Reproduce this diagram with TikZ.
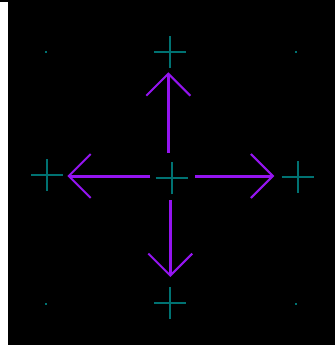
\documentclass[tikz,border=0pt]{standalone}
\usetikzlibrary{arrows.meta}
\definecolor{tealc}{HTML}{007272}
\definecolor{purp}{HTML}{9414F0}
\tikzset{
  x=1pt, y=-1pt,
  crossmark/.style={draw=tealc, line width=2pt},
  dotmark/.style={fill=tealc},
  arr/.style={draw=purp, line width=3pt, -{Straight Barb[length=22pt,width=44pt,line width=2pt]}}
}
\newcommand{\crossat}[1]{\draw[crossmark] ([xshift=-16pt]#1) -- ([xshift=16pt]#1) ([yshift=-16pt]#1) -- ([yshift=16pt]#1);}
\begin{document}
\begin{tikzpicture}
\useasboundingbox (0,0) rectangle (335,345);
\fill[black] (0,0) rectangle (335,345);
\fill[white] (0,2) rectangle (8,345);
% cross positions
\coordinate (top) at (170,51.7);
\coordinate (left) at (47,175);
\coordinate (right) at (297.7,176.7);
\coordinate (bottom) at (170,303);
\coordinate (center) at (171.7,178.3);
\crossat{top}
\crossat{left}
\crossat{right}
\crossat{bottom}
\crossat{center}
% corner dots
\coordinate (d1) at (45.7,51.7);
\coordinate (d2) at (296,51.7);
\coordinate (d3) at (45.7,304.3);
\coordinate (d4) at (296,304.3);
\foreach \d in {d1,d2,d3,d4} \fill[dotmark] ([xshift=-1pt,yshift=-1pt]\d) rectangle ([xshift=1pt,yshift=1pt]\d);
% arrow ends
\coordinate (us) at (168.3,152.7);
\coordinate (ue) at (168.3,72.3);
\coordinate (ls) at (149.7,176);
\coordinate (le) at (67.3,176);
\coordinate (rs) at (195,176);
\coordinate (re) at (274.3,176);
\coordinate (ds) at (170.3,200);
\coordinate (de) at (170.3,277);
\draw[arr] (us) -- (ue);
\draw[arr] (ls) -- (le);
\draw[arr] (rs) -- (re);
\draw[arr] (ds) -- (de);
\end{tikzpicture}
\end{document}
